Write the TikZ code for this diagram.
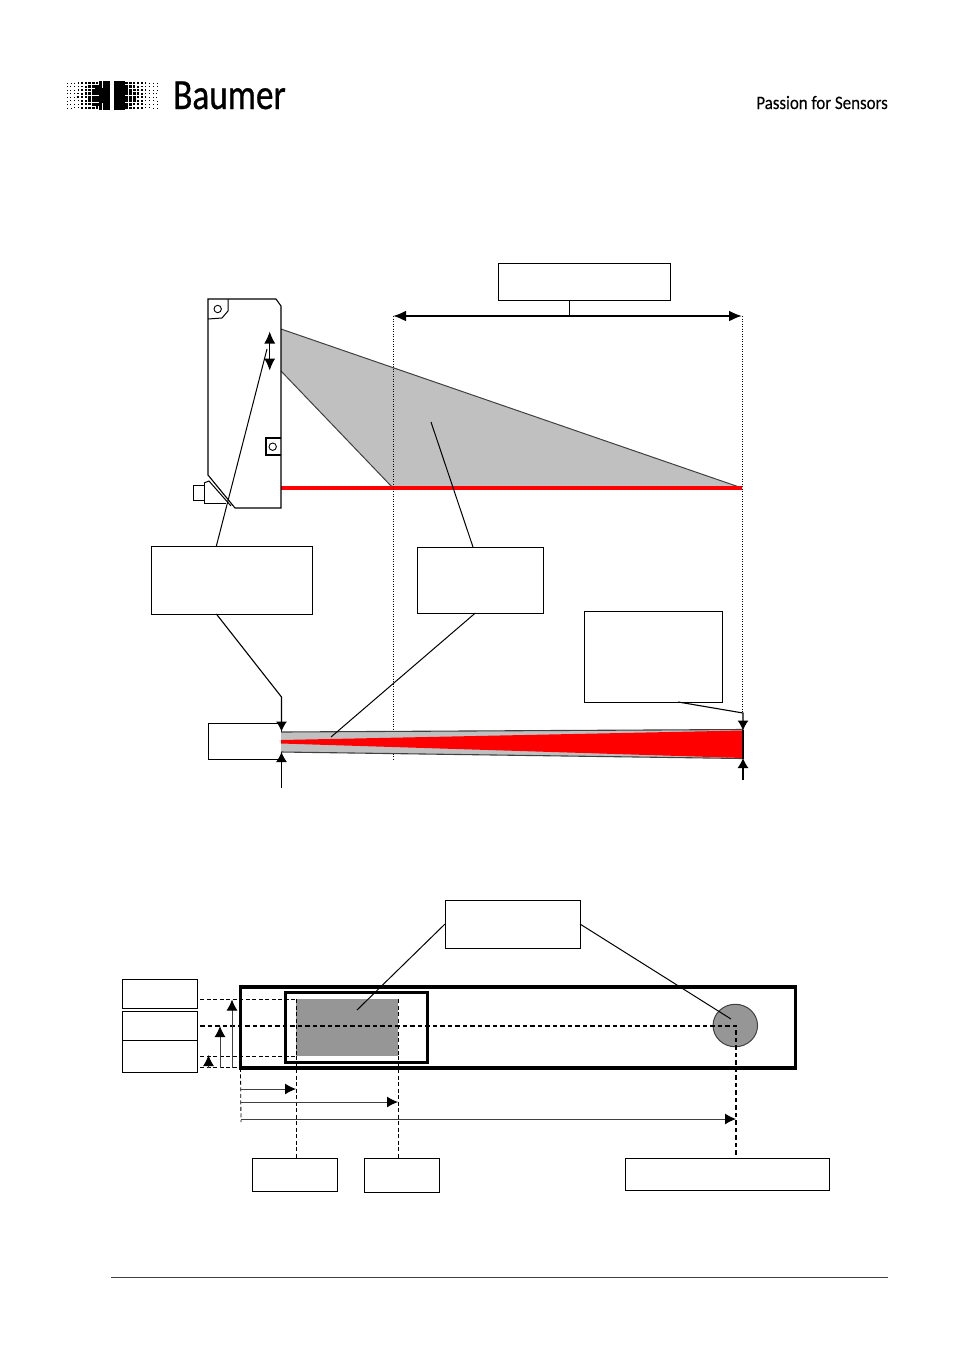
\documentclass[tikz,border=0pt]{standalone}
\usepackage{fontspec}
\setmainfont{Carlito}
\newfontfamily\brandfont[FakeStretch=0.82,FakeBold=0.7]{Carlito}
\newfontfamily\claimfont[FakeStretch=0.89,FakeBold=0.1]{Carlito}
\usetikzlibrary{arrows.meta,shapes.geometric}

\definecolor{beamgrey}{HTML}{C0C0C0}
\definecolor{spotgrey}{HTML}{969696}
\definecolor{edgegrey}{HTML}{404040}

\tikzset{
    labelbox/.style={draw,line width=0.95pt,inner sep=0pt,outer sep=0pt},
    frame/.style={draw,inner sep=0pt,outer sep=0pt},
    leader/.style={line width=1pt},
    tip/.style={line width=1.1pt,-{Latex[length=10pt,width=11pt]}},
    smalltip/.style={line width=1pt,edgegrey,-{Latex[length=11pt,width=11pt,black]}},
    thindash/.style={line width=0.8pt,dash pattern=on 4pt off 2.5pt},
    heavydash/.style={line width=1.8pt,dash pattern=on 4.5pt off 3pt},
    dotline/.style={line width=0.7pt,dash pattern=on 1pt off 1.5pt},
}

% one block of the halftone logo, #2 gives the side that is solid
\newcommand{\halftone}[2]{%
    \foreach \col in {0,...,11} {
        \foreach \row in {0,...,7} {
            \pgfmathsetmacro{\dotsize}{min(4,0.6+0.36*(#2*(\col-5.5)+5.5)-0.15*abs(\row-3.5))}
            \fill (#1+3.75*\col,83+3.55*\row) ++(-\dotsize/2,-\dotsize/2) rectangle ++(\dotsize,\dotsize);
        }
    }
}

% a mounting hole of the housing
\newcommand{\hole}[2]{%
    \draw[line width=0.9pt] (#1,#2) circle (3.7);
}

\begin{document}
\begin{tikzpicture}[x=1pt,y=-1pt]
    \useasboundingbox (0,0) rectangle (954,1350);

    % Header
    \halftone{67}{1}
    \halftone{115.5}{-1}
    \node[inner sep=0pt,anchor=base west] (brand) at (173,109) {\fontsize{43}{43}\brandfont Baumer};
    \node[inner sep=0pt,anchor=base east] (claim) at (888,109) {\fontsize{19}{19}\claimfont Passion for Sensors};

    % Beam seen from the side
    \fill[beamgrey] (281,329) -- (742,488) -- (393,488) -- (281,371) -- cycle;
    \draw[edgegrey,line width=1pt] (281,371) -- (393,488);
    \draw[edgegrey,line width=1pt] (281,329) -- (742,488);
    \draw[red,line width=3.7pt] (281,488) -- (742,488);

    % Housing
    \draw[line width=1.1pt] (208,299) -- (276,299) -- (281,306) -- (281,508) -- (235,508) -- (208,475) -- cycle;
    \draw[line width=1pt] (228,299) -- (228,311) -- (222,318) -- (208,319);
    \draw[line width=1.1pt] (281,438) -- (266,438) -- (266,455) -- (281,455);
    \hole{217.7}{309}
    \hole{272.7}{446.7}
    \draw[line width=1pt] (193.5,485) rectangle (204,500);
    \draw[line width=1pt] (204,483) -- (209,481) -- (231,506);
    \draw[line width=1pt] (204,483) -- (204,503) -- (226,503);
    \draw[line width=1.1pt,{Latex[length=12pt,width=11pt]}-{Latex[length=12pt,width=11pt]}] (269.7,331.5) -- (269.7,370.5);

    % Text boxes of the upper part
    \node[labelbox,minimum width=172pt,minimum height=37pt] (rangebox) at (584,281.5) {};
    \node[labelbox,minimum width=161pt,minimum height=68pt] (drivebox) at (231.5,580) {};
    \node[labelbox,minimum width=126pt,minimum height=66pt] (zonebox) at (480,580) {};
    \node[labelbox,minimum width=138pt,minimum height=91pt] (spotbox) at (653,656.5) {};

    % Range arrow and its dotted limits
    \coordinate (rangeleft) at (393,316);
    \coordinate (rangeright) at (742,316);
    \draw[dotline] (rangeleft) -- (393,760);
    \draw[dotline] (rangeright) -- (742,712);
    \draw[line width=2.2pt,{Latex[length=13pt,width=11pt]}-{Latex[length=13pt,width=11pt]}] (rangeleft) -- (rangeright);
    \draw[leader] (rangebox.-129) -- (rangebox.-129 |- rangeleft);

    % Beam seen from above
    \node[labelbox,minimum width=73pt,minimum height=36.5pt] (headbox) at (244.5,741.5) {};
    \fill[beamgrey] (281,732) -- (743,729.5) -- (743,758.5) -- (281,752) -- cycle;
    \draw[edgegrey,line width=1.1pt] (281,732) -- (743,729.5);
    \draw[edgegrey,line width=1.1pt] (281,752) -- (743,758.5);
    \fill[red] (281,740) -- (743,730.5) -- (743,758) -- (281,743.5) -- cycle;
    \draw[line width=1.1pt] (743,729.5) -- (743,758.5);

    % Leaders of the upper part
    \coordinate (travel) at (267,349);
    \coordinate (zonemark) at (431,422);
    \coordinate (wedgemark) at (331,737);
    \coordinate (headtop) at (281.5,731.5);
    \coordinate (headbottom) at (281.5,752);
    \coordinate (endtop) at (743,730.5);
    \coordinate (endbottom) at (743,758);
    \draw[leader] (drivebox.114.5) -- (travel);
    \draw[leader] (zonebox.102) -- (zonemark);
    \draw[leader] (zonebox.-98.6) -- (wedgemark);
    \draw[tip] (drivebox.-114.5) -- (281.5,697) -- (headtop);
    \draw[tip] (281.5,788) -- (headbottom);
    \draw[tip] (spotbox.-61.2) -- (743,713) -- (endtop);
    \draw[tip] (743,780) -- (endbottom);

    % Measuring field
    \node[frame,line width=3.8pt,minimum width=555pt,minimum height=81pt] (fieldbox) at (518,1027.3) {};
    \node[fill=spotgrey,inner sep=0pt,outer sep=0pt,minimum width=102.5pt,minimum height=56.7pt] (testarea) at (347.2,1027.7) {};
    \node[frame,line width=3.2pt,minimum width=142pt,minimum height=70pt] (innerbox) at (356.7,1027.7) {};
    \node[ellipse,draw=edgegrey,fill=spotgrey,line width=1pt,inner sep=0pt,outer sep=0pt,minimum width=44.5pt,minimum height=42.5pt] (spot) at (735.3,1025.5) {};

    % Text boxes of the lower part
    \node[labelbox,minimum width=135pt,minimum height=48pt] (detectbox) at (512.5,924) {};
    \node[labelbox,minimum width=74.5pt,minimum height=29pt] (topbox) at (160,993.8) {};
    \node[labelbox,minimum width=74.5pt,minimum height=29.5pt] (midbox) at (160,1026.2) {};
    \node[labelbox,minimum width=74.5pt,minimum height=31.5pt] (lowbox) at (160,1056.5) {};
    \node[labelbox,minimum width=85pt,minimum height=33.5pt] (startbox) at (295,1175) {};
    \node[labelbox,minimum width=74.5pt,minimum height=34pt] (endbox) at (401.75,1175) {};
    \node[labelbox,minimum width=204pt,minimum height=32.5pt] (widebox) at (727.5,1174.5) {};

    % Leaders of the lower part
    \coordinate (areamark) at (357,1010);
    \coordinate (spotmark) at (731,1019);
    \draw[leader] (detectbox.west) -- (areamark);
    \draw[leader] (detectbox.east) -- (spotmark);

    % Dashed guides
    \coordinate (centre) at (736,1026);
    \draw[thindash] ([xshift=3pt]topbox.east |- testarea.north west) -- (testarea.north west);
    \draw[thindash] ([xshift=3pt]lowbox.east |- testarea.south west) -- (testarea.south west);
    \draw[thindash] ([xshift=3pt]lowbox.east |- fieldbox.south west) -- (fieldbox.south west);
    \draw[heavydash] ([xshift=3pt]midbox.east |- centre) -- (centre) -- (centre |- widebox.north);
    \draw[thindash] (fieldbox.south west) -- (241,1122);
    \draw[thindash] (testarea.south west) -- (testarea.south west |- startbox.north);
    \draw[thindash] (testarea.south east) -- (testarea.south east |- endbox.north);
    \draw[thindash] (testarea.north west) -- (testarea.south west);
    \draw[thindash] (testarea.north east) -- (testarea.south east);

    % Offsets measured from the corner of the field
    \draw[smalltip] (208.5,1067.5) -- (208.5,1055);
    \draw[smalltip] (220,1067.5) -- (220,1026);
    \draw[smalltip] (232,1067.5) -- (232,999.5);
    \draw[smalltip] (241,1089) -- (296,1089);
    \draw[smalltip] (241,1102) -- (398,1102);
    \draw[smalltip] (241,1119) -- (736,1119);

    % Footer
    \draw[line width=1pt,edgegrey] (111,1277) -- (888,1277);
\end{tikzpicture}
\end{document}
